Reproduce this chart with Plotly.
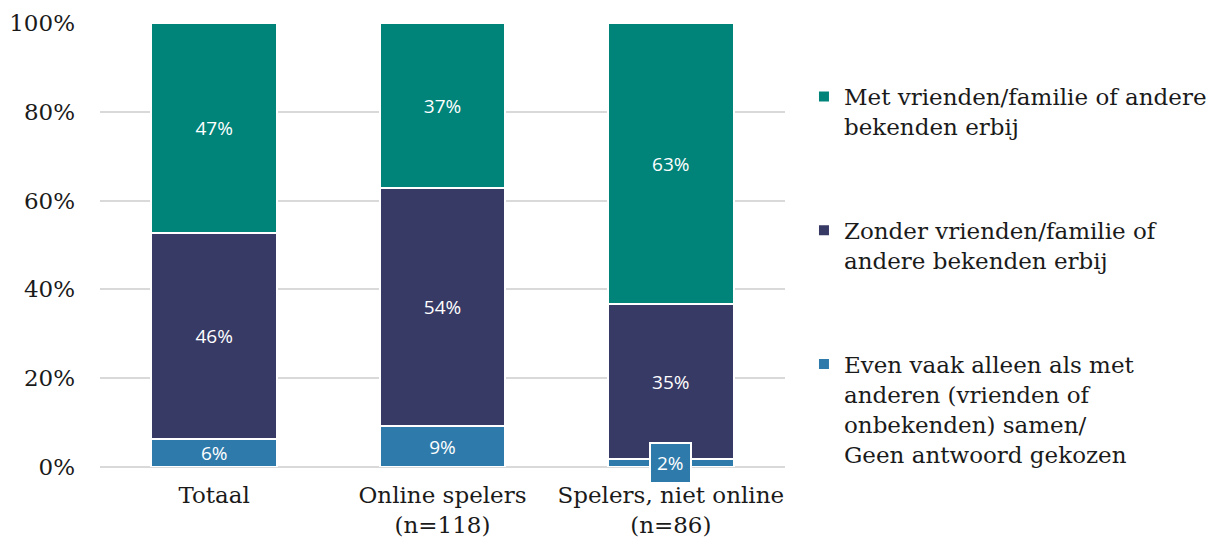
import plotly.graph_objects as go

categories = ["Totaal", "Online spelers<br>(n=118)", "Spelers, niet online<br>(n=86)"]
series_names = [
    "Even vaak alleen als met<br>anderen (vrienden of<br>onbekenden) samen/<br>Geen antwoord gekozen",
    "Zonder vrienden/familie of<br>andere bekenden erbij",
    "Met vrienden/familie of andere<br>bekenden erbij",
]
even_vals = [6.3, 9.2, 1.8]
zonder_vals = [46.3, 53.6, 34.9]
met_vals = [47.4, 37.2, 63.3]
colors = ["rgb(46,123,171)", "rgb(56,58,102)", "rgb(0,132,122)"]
legend_ranks = [3, 2, 1]
tick_vals = [0, 20, 40, 60, 80, 100]
tick_text = ["0%", "20%", "40%", "60%", "80%", "100%"]

SERIF = "DejaVu Serif"
SANS = "Open Sans"

fig = go.Figure()
all_vals = [even_vals, zonder_vals, met_vals]
annotations = []
for i, (name, vals, col) in enumerate(zip(series_names, all_vals, colors)):
    texts = []
    for j, v in enumerate(vals):
        if v < 4:
            texts.append("")
            annotations.append(dict(
                x=categories[j], y=v / 2, xref="x", yref="y",
                text=f"{round(v)}%", showarrow=False,
                font=dict(family=SANS, size=19, color="white"),
                bgcolor=col, bordercolor="white", borderwidth=2, borderpad=6,
            ))
        else:
            texts.append(f"{round(v)}%")
    fig.add_trace(go.Bar(
        x=categories, y=vals, name=name, marker_color=col,
        marker_line=dict(color="white", width=2),
        text=texts, textposition="inside", insidetextanchor="middle",
        constraintext="none", cliponaxis=False,
        textfont=dict(family=SANS, size=19, color="white"),
        legendgroup=f"g{i}", legendrank=legend_ranks[i], width=0.55,
    ))

fig.update_layout(
    barmode="stack",
    width=1210, height=531,
    margin=dict(l=92, r=433, t=15, b=72, autoexpand=False),
    plot_bgcolor="white", paper_bgcolor="white",
    font=dict(family=SERIF, size=23, color="#1a1a1a"),
    xaxis=dict(showgrid=False, showline=False, ticks="", tickfont=dict(size=23),
               ticklabelstandoff=12, automargin=False),
    yaxis=dict(range=[0, 100], tickvals=tick_vals, ticktext=tick_text,
               showgrid=True, gridcolor="#d9d9d9", gridwidth=1.5,
               zeroline=True, zerolinecolor="#d9d9d9", zerolinewidth=1.5,
               ticks="", ticklabelstandoff=24, tickfont=dict(size=23),
               automargin=False),
    legend=dict(x=1.0277, y=0.883, xanchor="left", yanchor="top",
                traceorder="grouped", tracegroupgap=71,
                valign="top", font=dict(family=SERIF, size=23),
                itemwidth=30),
    annotations=annotations,
    showlegend=True,
)

fig.write_html("out.html")
